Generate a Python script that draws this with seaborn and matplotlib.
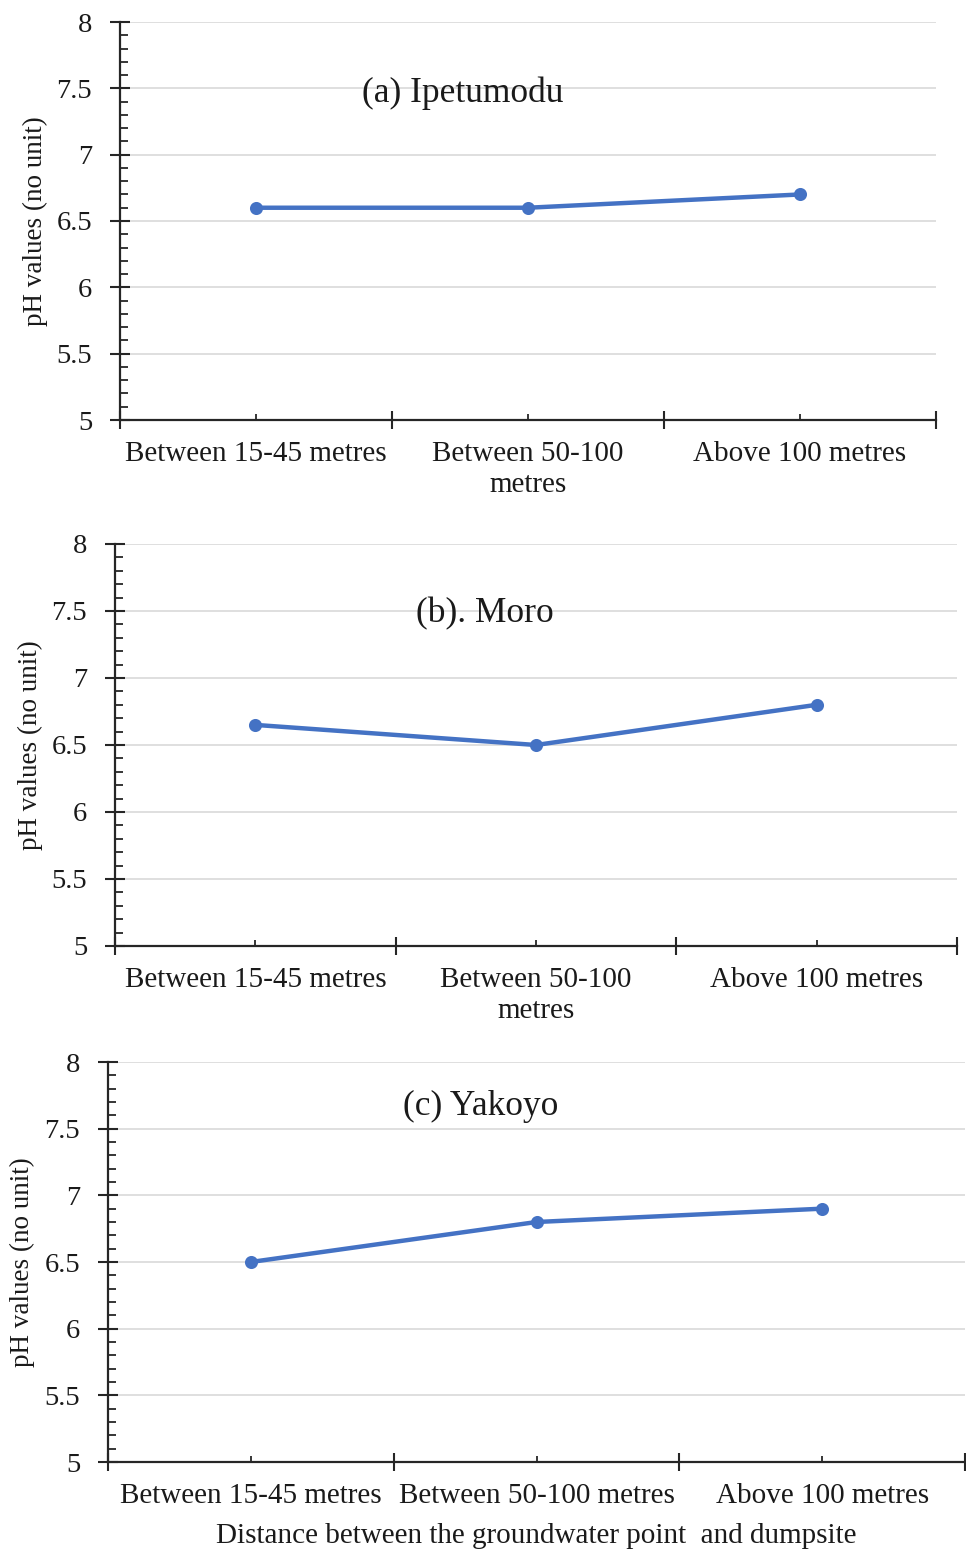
import numpy as np
import pandas as pd
import matplotlib
matplotlib.use("Agg")
import matplotlib.pyplot as plt
import seaborn as sns
from matplotlib.ticker import MultipleLocator, FixedLocator

categories = ["Between 15-45 metres", "Between 50-100 metres", "Above 100 metres"]
ipetumodu = [6.6, 6.6, 6.7]
moro = [6.65, 6.5, 6.8]
yakoyo = [6.5, 6.8, 6.9]
titles = ["(a) Ipetumodu", "(b). Moro", "(c) Yakoyo"]
ylabel = "pH values (no unit)"
xlabel = "Distance between the groundwater point  and dumpsite"

sns.set_style("white")
plt.rcParams["font.family"] = ["Liberation Serif", "DejaVu Serif"]

W, H = 966, 1551
fig = plt.figure(figsize=(W / 100, H / 100), dpi=100)

panels = [
    dict(box=(120, 936, 22, 420), vals=ipetumodu, title=titles[0], tpos=(0.42, 0.822),
         ylx=-0.088, wrap=True),
    dict(box=(115, 957, 544, 946), vals=moro, title=titles[1], tpos=(0.439, 0.826),
         ylx=-0.0855, wrap=True),
    dict(box=(108, 965, 1062, 1462), vals=yakoyo, title=titles[2], tpos=(0.435, 0.888),
         ylx=-0.085, wrap=False),
]

txt = "#1a1a1a"
axc = "#262626"
blue = "#4472C4"

for i, p in enumerate(panels):
    l, r, t, b = p["box"]
    ax = fig.add_axes([l / W, 1 - b / H, (r - l) / W, (b - t) / H])
    df = pd.DataFrame({"cat": categories, "val": p["vals"]})
    sns.pointplot(data=df, x="cat", y="val", color=blue, markers="o",
                  markersize=7, linewidth=3.2, ax=ax, errorbar=None)
    ax.set_xlim(-0.5, 2.5)
    ax.set_ylim(5, 8)
    ax.yaxis.set_major_locator(MultipleLocator(0.5))
    ax.yaxis.set_minor_locator(MultipleLocator(0.1))
    ax.set_yticks([5, 5.5, 6, 6.5, 7, 7.5, 8])
    ax.set_yticklabels(["5", "5.5", "6", "6.5", "7", "7.5", "8"])
    ax.yaxis.grid(True, which="major", color="#d9d9d9", lw=1.2)
    ax.xaxis.grid(False)
    ax.set_axisbelow(True)

    ax.xaxis.set_major_locator(FixedLocator([-0.5, 0.5, 1.5, 2.5]))
    ax.set_xticklabels([])
    labs = [c.replace("Between 50-100 metres", "Between 50-100\nmetres") if p["wrap"] else c
            for c in categories]
    ax.set_xticks([0, 1, 2], labels=labs, minor=True)

    ax.tick_params(axis="both", which="both", bottom=True, left=True, top=False, right=False)
    ax.tick_params(axis="y", which="major", direction="inout", length=14, width=1.5,
                   color=axc, labelsize=20.5, labelcolor=txt, pad=13)
    ax.tick_params(axis="y", which="minor", direction="in", length=5.5, width=1.3, color=axc)
    ax.tick_params(axis="x", which="major", direction="inout", length=13, width=1.5, color=axc)
    ax.tick_params(axis="x", which="minor", direction="in", length=4, width=1.3, color=axc,
                   labelsize=21, labelcolor=txt, pad=15)
    for lab in ax.get_xticklabels(minor=True):
        lab.set_linespacing(1.25)

    for s in ["top", "right"]:
        ax.spines[s].set_visible(False)
    for s in ["left", "bottom"]:
        ax.spines[s].set_color(axc)
        ax.spines[s].set_linewidth(1.6)

    ax.set_ylabel(ylabel, fontsize=19.5, color=txt)
    ax.yaxis.set_label_coords(p["ylx"], 0.5)
    ax.set_xlabel("")
    ax.text(p["tpos"][0], p["tpos"][1], p["title"], transform=ax.transAxes,
            ha="center", va="center", fontsize=25.5, color=txt)
    if i == 2:
        ax.set_xlabel(xlabel, fontsize=21, color=txt, labelpad=10)

fig.savefig("out.png", dpi=100)
